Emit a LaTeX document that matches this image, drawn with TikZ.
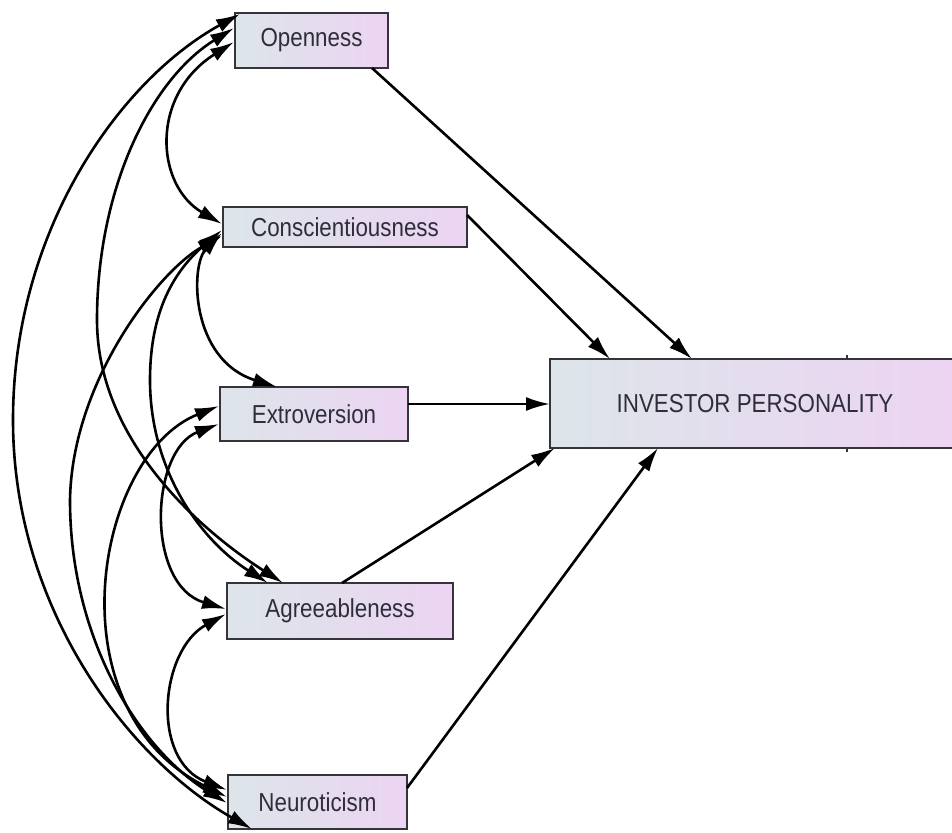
\documentclass[tikz,border=0pt]{standalone}
\usepackage{fontspec}
\usetikzlibrary{arrows.meta,calc}
\newfontfamily\boxfont[FakeStretch=0.86]{Liberation Sans}
\definecolor{boxline}{HTML}{34343A}
\definecolor{fillL}{HTML}{DDE5EA}
\definecolor{fillR}{HTML}{ECD4F2}
\definecolor{txt}{HTML}{2E2E3A}
\begin{document}
\begin{tikzpicture}[x=1pt,y=-1pt,
  var/.style={draw=boxline, line width=2.6pt, left color=fillL, right color=fillR,
    inner sep=0pt, outer sep=0pt, text=txt, font=\boxfont\fontsize{26}{30}\selectfont},
  effect/.style={-{Latex[length=24pt,width=14pt]}, line width=2.6pt},
  cov/.style={{Latex[length=24pt,width=14pt]}-{Latex[length=24pt,width=14pt]}, line width=2.6pt}]
\useasboundingbox (0,0) rectangle (952,832);

% observed variables
\node[var, minimum width=153pt, minimum height=55pt] (O) at (311.5,40.5) {Openness};
\node[var, minimum width=244pt, minimum height=40pt] (C) at (345,227) {Conscientiousness};
\node[var, minimum width=188pt, minimum height=54pt] (E) at (314,414) {Extroversion};
\node[var, minimum width=226pt, minimum height=56pt] (A) at (340,611) {Agreeableness};
\node[var, minimum width=179pt, minimum height=54pt] (N) at (317.5,802) {Neuroticism};
% outcome
\node[var, minimum width=410pt, minimum height=89pt] (IP) at (755,403.5) {INVESTOR PERSONALITY};
\draw[boxline, line width=1.6pt] ($(IP.north west)+(297,-4)$) -- ($(IP.north west)+(297,0)$);
\draw[boxline, line width=1.6pt] ($(IP.south west)+(297,0)$) -- ($(IP.south west)+(297,4)$);

% direct effects
\draw[effect] ($(O.north west)+(137,55)$) -- ($(IP.north west)+(142,0)$);
\draw[effect] ($(C.north west)+(244,8)$) -- ($(IP.north west)+(60,0)$);
\draw[effect] ($(E.north west)+(188,17)$) -- ($(IP.north west)+(0,45)$);
\draw[effect] ($(A.north west)+(115,0)$) -- ($(IP.north west)+(5,89)$);
\draw[effect] ($(N.north west)+(179,13)$) -- ($(IP.north west)+(108,89)$);

% covariances
\draw[cov] ($(O.north west)+(-1,29)$) .. controls (150,95) and (155,185) .. ($(C.north west)+(-1,17)$);
\draw[cov] ($(O.north west)+(5,1)$) .. controls (120,80) and (13,230) .. (13,420)
  .. controls (13,610) and (130,760) .. ($(N.north west)+(24,54)$);
\draw[cov] ($(O.north west)+(-1,15)$) .. controls (150,80) and (97,190) .. (97,320)
  .. controls (97,440) and (200,530) .. ($(A.north west)+(56,0)$);
\draw[cov] ($(C.north west)+(-1,26)$) .. controls (190,265) and (190,360) .. ($(E.north west)+(57,0)$);
\draw[cov] ($(C.north west)+(-1,23)$) .. controls (175,270) and (150,310) .. (150,380)
  .. controls (150,470) and (200,540) .. ($(A.north west)+(41,0)$);
\draw[cov] ($(C.north west)+(-1,29)$) .. controls (160,270) and (72,380) .. (70,500)
  .. controls (70,640) and (140,750) .. ($(N.north west)+(-1,28)$);
\draw[cov] ($(E.north west)+(-1,37)$) .. controls (150,450) and (145,585) .. ($(A.north west)+(-1,26)$);
\draw[cov] ($(E.north west)+(-1,19)$) .. controls (95,455) and (50,710) .. ($(N.north west)+(-1,22)$);
\draw[cov] ($(A.north west)+(-1,31)$) .. controls (160,650) and (150,760) .. ($(N.north west)+(-1,15)$);
\end{tikzpicture}
\end{document}
